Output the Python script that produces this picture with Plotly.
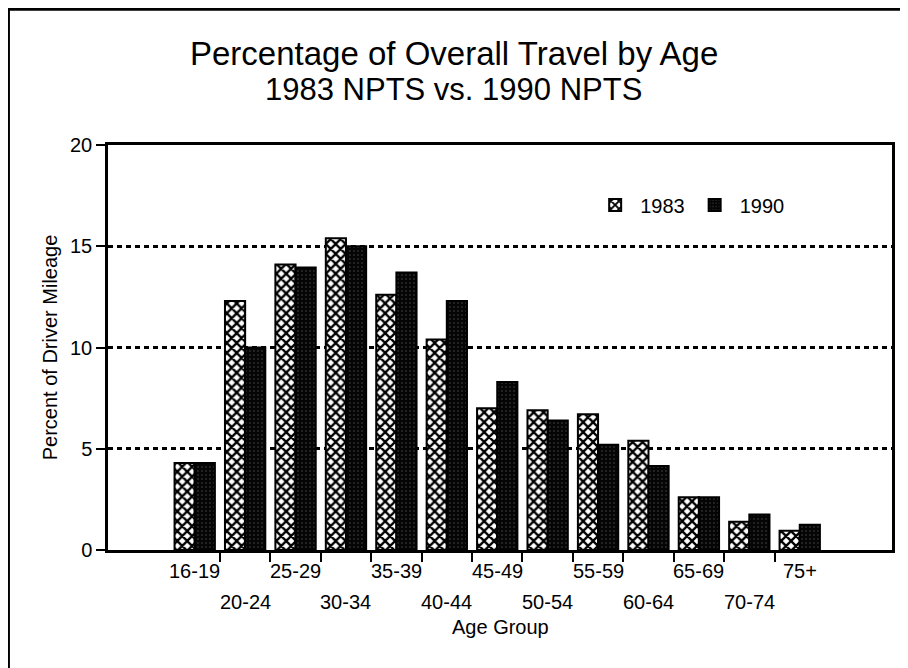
import plotly.graph_objects as go

ages = ['16-19', '20-24', '25-29', '30-34', '35-39', '40-44', '45-49',
        '50-54', '55-59', '60-64', '65-69', '70-74', '75+']
pct_1983 = [4.3, 12.3, 14.1, 15.4, 12.6, 10.4, 7.0, 6.9, 6.7, 5.4, 2.6, 1.4, 0.95]
pct_1990 = [4.3, 10.0, 13.95, 15.0, 13.7, 12.3, 8.3, 6.4, 5.2, 4.15, 2.6, 1.75, 1.25]
y_ticks = [0, 5, 10, 15, 20]

FONT = 'Liberation Sans, Arial, Helvetica'
xs = list(range(len(ages)))

fig = go.Figure()
fig.add_trace(go.Bar(x=xs, y=pct_1983, name='1983',
                     marker=dict(color='white', line=dict(color='black', width=2),
                                 pattern=dict(shape='x', fgcolor='black', bgcolor='white',
                                              size=7, solidity=0.55, fillmode='replace'))))
fig.add_trace(go.Bar(x=xs, y=pct_1990, name='1990',
                     marker=dict(color='black', line=dict(color='black', width=2),
                                 pattern=dict(shape='.', fgcolor='#4a4a4a', bgcolor='#050505',
                                              size=4, solidity=0.12, fillmode='replace'))))

# category labels alternate between two rows, like the original
ann = []
for i, a in enumerate(ages):
    ann.append(dict(x=i, y=0, xref='x', yref='paper', text=a, showarrow=False,
                    yanchor='top', yshift=-8 if i % 2 == 0 else -39,
                    font=dict(size=20, family=FONT, color='black')))
ann.append(dict(x=0.5, y=0, xref='paper', yref='paper', text='Age Group', showarrow=False,
                yanchor='top', yshift=-64, font=dict(size=20, family=FONT, color='black')))
ann.append(dict(x=0.441, y=1.225, xref='paper', yref='paper', showarrow=False,
                text='Percentage of Overall Travel by Age', yanchor='middle',
                font=dict(size=33, family=FONT, color='black')))
ann.append(dict(x=0.441, y=1.137, xref='paper', yref='paper', showarrow=False,
                text='1983 NPTS vs. 1990 NPTS', yanchor='middle',
                font=dict(size=31, family=FONT, color='black')))

fig.update_layout(
    width=908, height=668, autosize=False,
    paper_bgcolor='white', plot_bgcolor='white',
    margin=dict(l=100, r=24, t=137, b=126),
    barmode='group', bargap=0.2, bargroupgap=0,
    font=dict(family=FONT, color='black', size=19),
    xaxis=dict(range=[-1.72, 13.83], showgrid=False, zeroline=False,
               showline=True, linecolor='black', linewidth=2.5, mirror=True,
               tickvals=[], showticklabels=False,
               minor=dict(tickvals=[i + 0.5 for i in xs[:-1]], ticks='outside',
                          ticklen=9, tickwidth=2, tickcolor='black', showgrid=False)),
    yaxis=dict(range=[0, 20], tickvals=y_ticks, ticks='outside', ticklen=9,
               tickwidth=2, tickcolor='black',
               showline=True, linecolor='black', linewidth=2.5, mirror=True,
               showgrid=True, gridcolor='black', gridwidth=2.5, griddash='5px,4px',
               zeroline=False, tickfont=dict(size=20),
               title=dict(text='Percent of Driver Mileage', font=dict(size=20), standoff=8)),
    legend=dict(orientation='h', x=0.615, y=0.852, xanchor='left', yanchor='middle',
                font=dict(size=20), bgcolor='rgba(0,0,0,0)', itemwidth=40),
    annotations=ann,
    shapes=[dict(type='rect', xref='paper', yref='paper',
                 x0=-0.127, x1=1.05, y0=-0.33, y1=1.335,
                 line=dict(color='black', width=3), layer='below')],
)

fig.write_html('out.html')
